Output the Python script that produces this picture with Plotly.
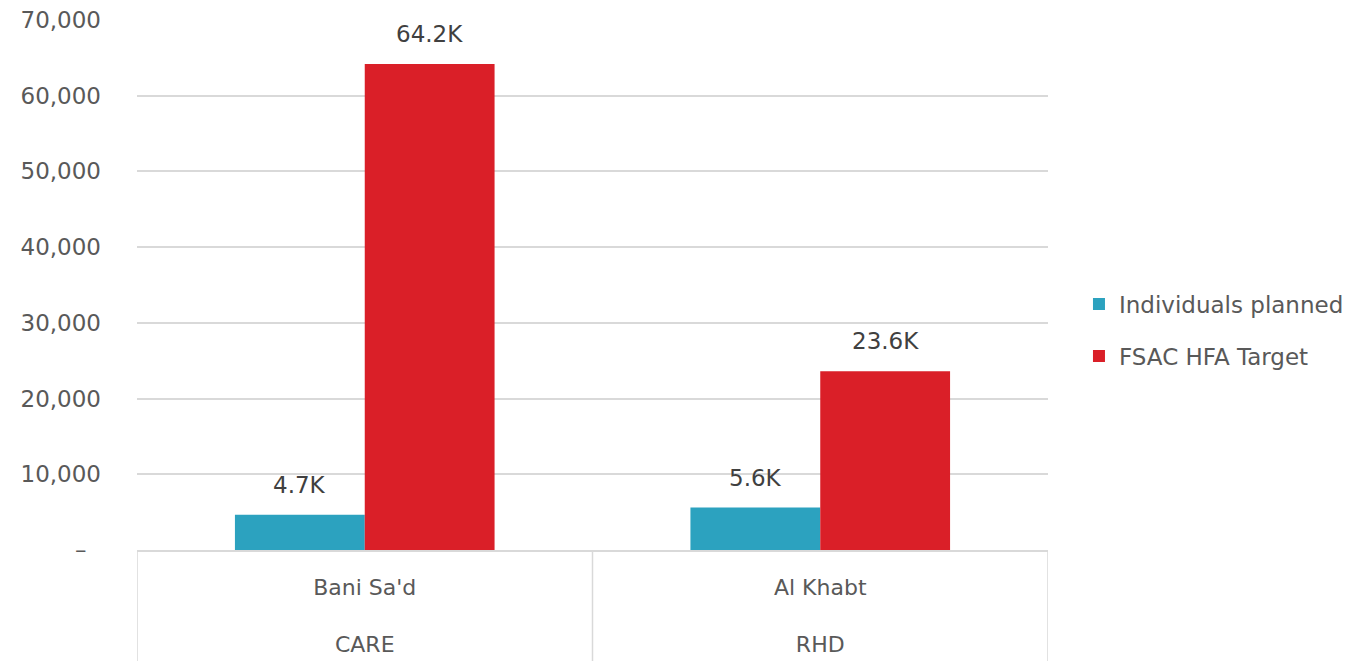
import plotly.graph_objects as go

organisations = ["CARE", "RHD"]
districts = ["Bani Sa'd", "Al Khabt"]
individuals_planned = [4650, 5600]
fsac_target = [64200, 23600]
y_ticks = [0, 10000, 20000, 30000, 40000, 50000, 60000, 70000]
y_ticktext = ["–\u00a0\u00a0", "10,000", "20,000", "30,000", "40,000", "50,000", "60,000", "70,000"]

FONT = "DejaVu Sans"
TEAL = "#2CA2BF"
RED = "#DA1F28"
GRID = "#d9d9d9"

def k(v):
    return f"{v/1000:.1f}K"

# two-level category labels: district on top, organisation below
x_ticktext = [d + "<br>\u00a0<br>" + o for d, o in zip(districts, organisations)]

fig = go.Figure()
fig.add_trace(go.Bar(
    x=districts, y=individuals_planned, name="Individuals planned",
    marker=dict(color=TEAL, line=dict(width=0)), legendgroup="a"))
fig.add_trace(go.Bar(
    x=districts, y=fsac_target, name="FSAC HFA Target",
    marker=dict(color=RED, line=dict(width=0)), legendgroup="b"))

for i, d in enumerate(districts):
    for vals, sh in ((individuals_planned, -65), (fsac_target, 65)):
        fig.add_annotation(x=d, y=vals[i], text=k(vals[i]), showarrow=False,
                           xref="x", yref="y", xshift=sh, yanchor="bottom", yshift=15,
                           font=dict(family=FONT, size=23, color="#404040"))

# category dividers below the axis (at category boundaries)
for b in [i - 0.5 for i in range(len(districts) + 1)]:
    fig.add_shape(type="line", xref="x", yref="paper", x0=b, x1=b, y0=0, y1=-0.3,
                  line=dict(color=GRID, width=1.5), layer="below")

fig.update_layout(
    width=1370, height=661,
    margin=dict(l=129, r=330, t=12, b=119),
    paper_bgcolor="white", plot_bgcolor="white",
    barmode="group", bargap=0.43, bargroupgap=0,
    font=dict(family=FONT, size=22, color="#595959"),
    legend=dict(x=1.034, y=0.415, xanchor="left", yanchor="middle",
                font=dict(family=FONT, size=23, color="#595959"),
                tracegroupgap=19, itemwidth=30),
    showlegend=True,
)
fig.update_yaxes(range=[0, 70000], tickvals=y_ticks, ticktext=y_ticktext,
                 showgrid=True, gridcolor=GRID, gridwidth=1.5, automargin=False,
                 zeroline=False, showline=False, ticks="", ticklabelstandoff=35,
                 ticklabeloverflow="allow",
                 tickfont=dict(family=FONT, size=23, color="#595959"))
fig.update_xaxes(range=[-0.5, len(districts) - 0.5],
                 tickvals=districts, ticktext=x_ticktext,
                 showgrid=False, showline=True, linecolor=GRID, linewidth=1.5,
                 automargin=False, ticklabelstandoff=17, ticklabeloverflow="allow",
                 tickfont=dict(family=FONT, size=22, color="#595959"))

fig.write_html("out.html")
